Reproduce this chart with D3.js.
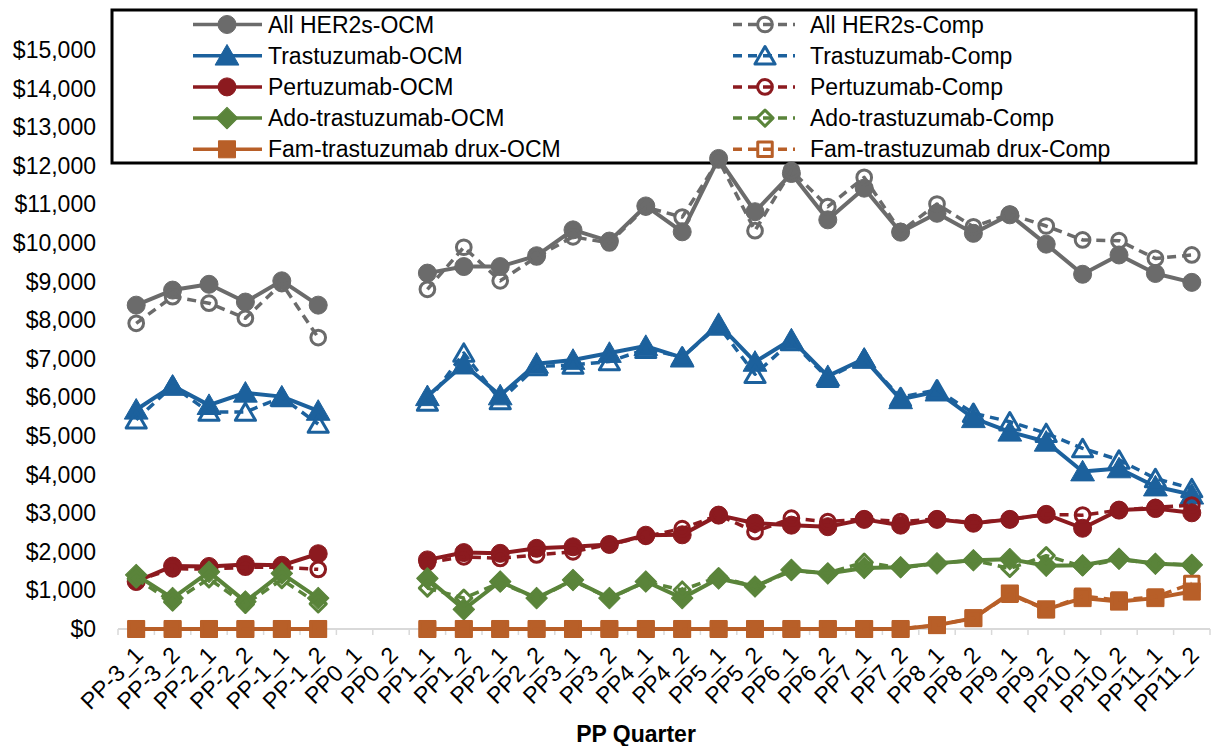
<!DOCTYPE html>
<html>
<head>
<meta charset="utf-8">
<script src="https://cdn.jsdelivr.net/npm/d3@7"></script>
<style>
  html, body { margin: 0; padding: 0; background: #ffffff; }
  svg { display: block; font-family: "Liberation Sans", Arial, sans-serif; }
</style>
</head>
<body>
<svg id="chart" width="1214" height="746"></svg>
<script>
// Quarters of the performance periods
const quarters = ["PP-3_1","PP-3_2","PP-2_1","PP-2_2","PP-1_1","PP-1_2","PP0_1","PP0_2",
  "PP1_1","PP1_2","PP2_1","PP2_2","PP3_1","PP3_2","PP4_1","PP4_2","PP5_1","PP5_2",
  "PP6_1","PP6_2","PP7_1","PP7_2","PP8_1","PP8_2","PP9_1","PP9_2","PP10_1","PP10_2",
  "PP11_1","PP11_2"];

// Average spending per episode (null = no data for that quarter)
const allHer2Ocm  = [8390,8780,8930,8470,9020,8390,null,null,9220,9390,9390,9670,10340,10050,10960,10290,12190,10810,11800,10600,11420,10280,10770,10250,10730,9970,9190,9690,9210,8980];
const allHer2Comp = [7920,8610,8440,8050,8950,7550,null,null,8800,9890,9020,9640,10160,10000,10930,10670,12150,10320,11880,10940,11700,10300,11010,10420,10750,10440,10080,10060,9600,9690];
const trastOcm    = [5680,6300,5800,6120,6020,5650,null,null,6030,6850,6050,6870,6970,7150,7330,7030,7900,6920,7500,6550,7000,5950,6150,5460,5110,4850,4080,4160,3690,3480];
const trastComp   = [5420,6300,5620,5620,6000,5310,null,null,5880,7150,5920,6800,6840,6930,7250,7050,7850,6600,7450,6500,7000,6000,6200,5590,5370,5070,4680,4380,3900,3640];
const pertOcm     = [1230,1630,1620,1670,1650,1950,null,null,1790,1980,1960,2090,2130,2190,2430,2440,2950,2740,2690,2650,2840,2690,2840,2740,2840,2970,2610,3080,3120,3010];
const pertComp    = [1250,1560,1550,1600,1600,1545,null,null,1720,1870,1830,1920,2000,2190,2400,2600,2950,2520,2870,2780,2850,2780,2850,2750,2840,2970,2950,3080,3150,3210];
const adoOcm      = [1400,800,1480,710,1440,800,null,null,1310,510,1230,800,1270,800,1230,800,1310,1100,1530,1440,1580,1600,1700,1780,1810,1640,1650,1820,1690,1660];
const adoComp     = [1300,700,1300,640,1280,650,null,null,1060,800,1200,800,1250,800,1220,1010,1350,1100,1500,1450,1730,1580,1700,1780,1570,1900,1620,1800,1700,1650];
const famOcm      = [0,0,0,0,0,0,null,null,0,0,0,0,0,0,0,0,0,0,0,0,0,0,100,280,920,510,800,710,800,970];
const famComp     = [0,0,0,0,0,0,null,null,0,0,0,0,0,0,0,0,0,0,0,0,0,0,100,280,900,500,850,750,830,1180];

const yTicks = d3.range(0, 16000, 1000);

const series = [
  { name: "All HER2s-OCM",            values: allHer2Ocm,  color: "#6b6b6b", shape: "circle",   open: false },
  { name: "All HER2s-Comp",           values: allHer2Comp, color: "#6b6b6b", shape: "circle",   open: true  },
  { name: "Trastuzumab-OCM",          values: trastOcm,    color: "#1c619d", shape: "triangle", open: false },
  { name: "Trastuzumab-Comp",         values: trastComp,   color: "#1c619d", shape: "triangle", open: true  },
  { name: "Pertuzumab-OCM",           values: pertOcm,     color: "#8c1a1f", shape: "circle",   open: false },
  { name: "Pertuzumab-Comp",          values: pertComp,    color: "#8c1a1f", shape: "circle",   open: true  },
  { name: "Ado-trastuzumab-OCM",      values: adoOcm,      color: "#5a843a", shape: "diamond",  open: false },
  { name: "Ado-trastuzumab-Comp",     values: adoComp,     color: "#5a843a", shape: "diamond",  open: true  },
  { name: "Fam-trastuzumab drux-OCM", values: famOcm,      color: "#b85f28", shape: "square",   open: false },
  { name: "Fam-trastuzumab drux-Comp",values: famComp,     color: "#b85f28", shape: "square",   open: true  }
];

const svg = d3.select("#chart");
const FONT = 23;

const x = d3.scaleBand().domain(quarters).range([118, 1210]).padding(0);
const y = d3.scaleLinear().domain([0, 16000]).range([629, 11.4]);
const cx = q => x(q) + x.bandwidth() / 2;

// Marker path generators (diamond = square turned 45 degrees)
function markerPath(shape, open) {
  if (shape === "circle")   return d3.symbol(d3.symbolCircle,   open ? 170 : 255)();
  if (shape === "triangle") return d3.symbol(d3.symbolTriangle, open ? 175 : 245)();
  if (shape === "diamond")  return d3.symbol(d3.symbolSquare,   open ? 130 : 230)();
  return d3.symbol(d3.symbolSquare, open ? 210 : 290)();
}
function drawMarker(g, s, px, py) {
  let t = `translate(${px},${py})`;
  if (s.shape === "triangle") t += " translate(0,2.5)";
  if (s.shape === "diamond") t += " rotate(45)";
  g.append("path")
    .attr("d", markerPath(s.shape, s.open))
    .attr("transform", t)
    .attr("fill", s.open ? "none" : s.color)
    .attr("stroke", s.color)
    .attr("stroke-width", s.open ? 3 : 1)
    .attr("stroke-linejoin", "round");
}

// Y axis labels
svg.append("g").selectAll("text").data(yTicks).join("text")
  .attr("x", 96).attr("y", d => y(d))
  .attr("dy", "0.35em")
  .attr("text-anchor", "end")
  .attr("font-size", FONT)
  .attr("fill", "#000")
  .text(d => "$" + d3.format(",")(d));

// X axis baseline and ticks
const xAxis = svg.append("g").attr("transform", "translate(0,629)")
  .call(d3.axisBottom(x).tickSize(0).tickFormat(""));
xAxis.select(".domain").attr("stroke", "#d9d9d9").attr("stroke-width", 2).attr("d", "M118,0H1210");
const bounds = d3.range(0, quarters.length + 1).map(i => 118 + i * x.bandwidth());
xAxis.selectAll("line.bound").data(bounds).join("line")
  .attr("class", "bound")
  .attr("x1", d => d).attr("x2", d => d).attr("y1", 0).attr("y2", 6)
  .attr("stroke", "#d9d9d9").attr("stroke-width", 1.5);

// X labels, rotated
svg.append("g").selectAll("text").data(quarters).join("text")
  .attr("transform", d => `translate(${cx(d) - 3},${645}) rotate(-45)`)
  .attr("text-anchor", "end")
  .attr("dy", "0.7em")
  .attr("font-size", 23)
  .attr("fill", "#000")
  .text(d => d);

// Axis title
svg.append("text")
  .attr("x", 636).attr("y", 742)
  .attr("text-anchor", "middle")
  .attr("font-size", FONT)
  .attr("font-weight", "bold")
  .attr("fill", "#000")
  .text("PP Quarter");

// Legend box
const legend = svg.append("g");
legend.append("rect")
  .attr("x", 112).attr("y", 10).attr("width", 1084).attr("height", 153)
  .attr("fill", "#fff").attr("stroke", "#000").attr("stroke-width", 3);

series.forEach((s, i) => {
  const col = i % 2, row = Math.floor(i / 2);
  const ly = 24.5 + row * 31.2;
  const x0 = col === 0 ? 193 : 733, x1 = col === 0 ? 262 : 795;
  const mx = col === 0 ? 227 : 765;
  const tx = col === 0 ? 268 : 810;
  const g = legend.append("g");
  g.append("line")
    .attr("x1", x0).attr("x2", x1).attr("y1", ly).attr("y2", ly)
    .attr("stroke", s.color).attr("stroke-width", 3.5)
    .attr("stroke-dasharray", s.open ? "9,6" : null);
  drawMarker(g, s, mx, ly);
  g.append("text")
    .attr("x", tx).attr("y", ly).attr("dy", "0.35em")
    .attr("font-size", FONT).attr("fill", "#000")
    .text(s.name);
});

// Series lines and markers
const line = d3.line()
  .defined(d => d.v !== null)
  .x(d => cx(d.q))
  .y(d => y(d.v));

series.forEach(s => {
  const pts = quarters.map((q, i) => ({ q, v: s.values[i] }));
  const g = svg.append("g");
  g.append("path")
    .datum(pts)
    .attr("d", line)
    .attr("fill", "none")
    .attr("stroke", s.color)
    .attr("stroke-width", s.open ? 3.5 : 4)
    .attr("stroke-linejoin", "round")
    .attr("stroke-dasharray", s.open ? "9,6" : null);
  pts.filter(d => d.v !== null).forEach(d => drawMarker(g, s, cx(d.q), y(d.v)));
});
</script>
</body>
</html>
